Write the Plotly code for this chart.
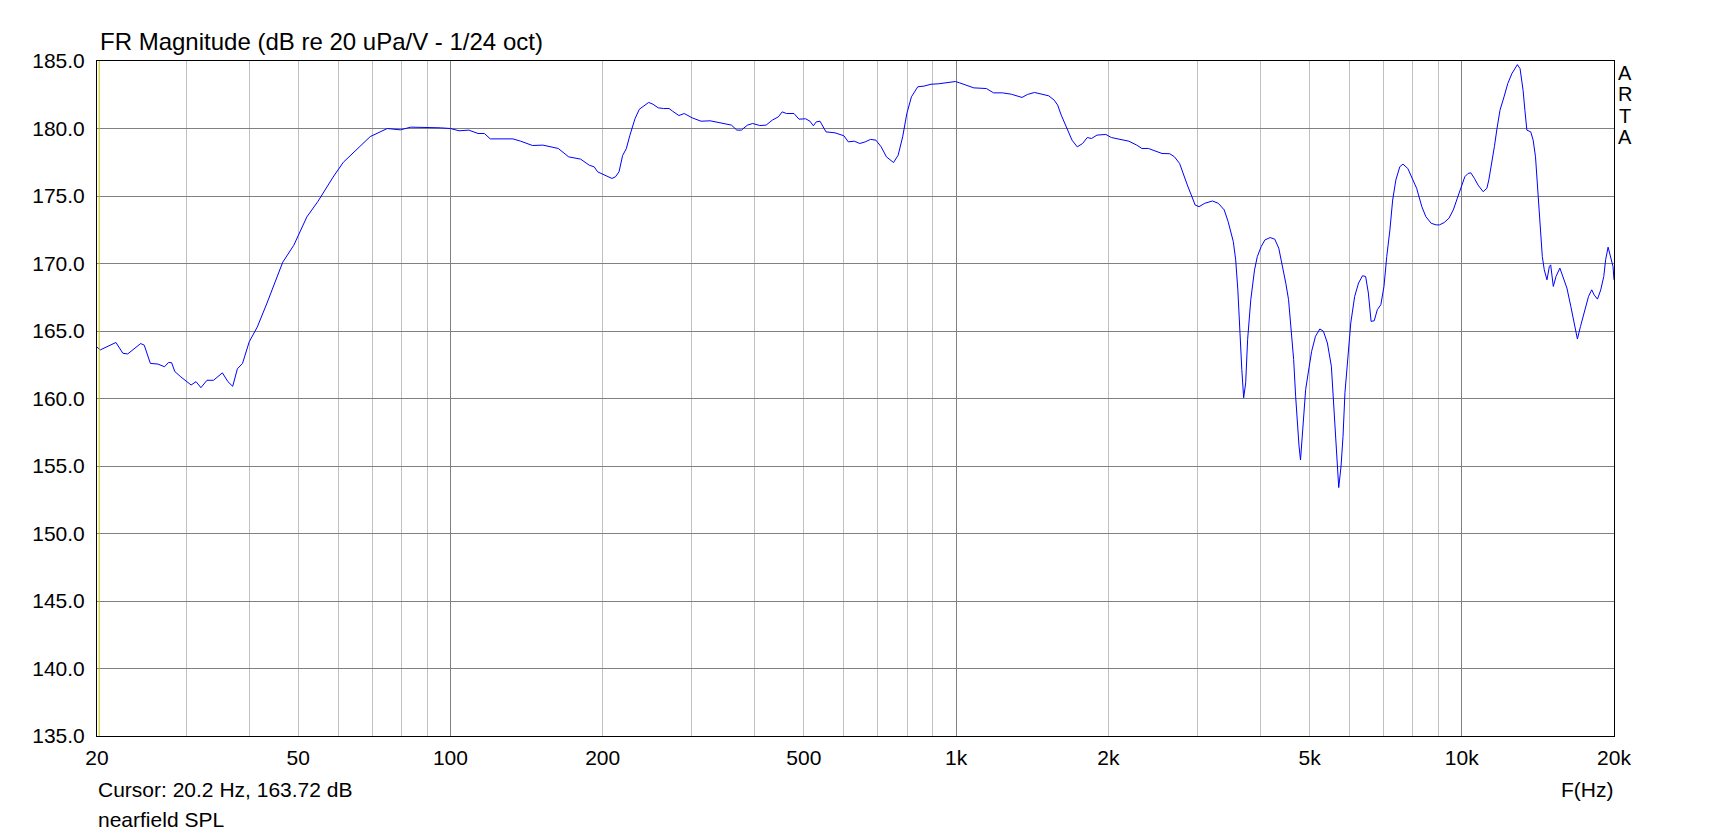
import math
import plotly.graph_objects as go

# ---------------- data ----------------
freq_hz = [
    20.0, 20.3, 21.8, 22.5, 23.0, 24.4, 24.8, 25.5, 26.4, 27.2, 27.7, 28.1, 28.5, 29.3,
    30.7, 31.4, 32.1, 33.0, 34.0, 35.4, 36.3, 37.1, 37.9, 38.8, 40.0, 41.5, 43.3, 44.6,
    46.6, 49.0, 52.0, 54.7, 58.6, 61.4, 65.2, 69.4, 75.0, 79.6, 83.5, 90.4, 95.5, 100.0,
    104.0, 108.7, 113.4, 116.7, 119.9, 125.9, 132.9, 137.7, 145.3, 152.3, 163.4, 171.3,
    180.9, 188.2, 192.4, 195.5, 200.3, 208.6, 212.0, 215.5, 219.0, 222.7, 226.4, 231.8,
    236.4, 241.4, 246.6, 251.4, 257.6, 264.0, 270.6, 275.0, 283.0, 290.0, 300.6, 313.0,
    326.2, 339.6, 350.8, 359.5, 368.4, 376.2, 386.6, 396.0, 409.0, 421.0, 433.0, 445.0,
    453.0, 462.0, 478.0, 489.0, 504.0, 514.0, 522.0, 529.0, 538.0, 553.0, 576.0, 600.0,
    612.0, 629.0, 645.0, 661.0, 677.0, 694.0, 711.0, 728.0, 752.0, 768.0, 784.0, 799.0,
    816.0, 840.0, 864.0, 892.0, 922.0, 960.0, 997.0, 1016.0, 1050.0, 1084.0, 1148.0,
    1186.0, 1235.0, 1286.0, 1350.0, 1384.0, 1429.0, 1476.0, 1525.0, 1563.0, 1588.0,
    1614.0, 1654.0, 1695.0, 1736.0, 1779.0, 1817.0, 1853.0, 1899.0, 1977.0, 2028.0,
    2102.0, 2196.0, 2276.0, 2330.0, 2400.0, 2465.0, 2554.0, 2646.0, 2703.0, 2767.0,
    2815.0, 2866.0, 2918.0, 2970.0, 3023.0, 3103.0, 3213.0, 3300.0, 3390.0, 3451.0,
    3533.0, 3572.0, 3607.0, 3640.0, 3673.0, 3704.0, 3738.0, 3771.0, 3826.0, 3892.0,
    3942.0, 4012.0, 4081.0, 4179.0, 4268.0, 4346.0, 4423.0, 4487.0, 4544.0, 4602.0,
    4651.0, 4693.0, 4733.0, 4766.0, 4798.0, 4848.0, 4912.0, 4987.0, 5048.0, 5137.0,
    5240.0, 5326.0, 5423.0, 5522.0, 5573.0, 5623.0, 5674.0, 5710.0, 5771.0, 5823.0,
    5874.0, 5947.0, 6032.0, 6140.0, 6250.0, 6363.0, 6454.0, 6535.0, 6617.0, 6712.0,
    6808.0, 6918.0, 7017.0, 7106.0, 7209.0, 7300.0, 7406.0, 7541.0, 7651.0, 7821.0,
    7965.0, 8142.0, 8337.0, 8491.0, 8699.0, 8896.0, 9034.0, 9228.0, 9432.0, 9621.0,
    9798.0, 9978.0, 10140.0, 10290.0, 10420.0, 10590.0, 10770.0, 11020.0, 11210.0,
    11310.0, 11460.0, 11600.0, 11740.0, 11900.0, 12120.0, 12330.0, 12560.0, 12730.0,
    12880.0, 13040.0, 13220.0, 13330.0, 13450.0, 13690.0, 13840.0, 13990.0, 14130.0,
    14250.0, 14430.0, 14560.0, 14740.0, 14900.0, 14990.0, 15170.0, 15360.0, 15630.0,
    15910.0, 16140.0, 16430.0, 16700.0, 16930.0, 17170.0, 17490.0, 17810.0, 18070.0,
    18270.0, 18550.0, 18830.0, 19090.0, 19250.0, 19470.0, 19700.0, 19910.0, 20000.0,
]

spl_db = [
    163.80, 163.60, 164.15, 163.35, 163.30, 164.07, 163.95, 162.60, 162.55, 162.35, 162.67, 162.65, 162.00, 161.60,
    161.00, 161.25, 160.80, 161.35, 161.35, 161.90, 161.25, 160.90, 162.20, 162.60, 164.20, 165.30, 167.00, 168.30,
    170.10, 171.35, 173.45, 174.60, 176.40, 177.50, 178.40, 179.40, 180.00, 179.90, 180.10, 180.10, 180.05, 180.00,
    179.83, 179.88, 179.63, 179.63, 179.23, 179.23, 179.23, 179.06, 178.74, 178.77, 178.52, 177.90,
    177.73, 177.28, 177.16, 176.79, 176.60, 176.30, 176.42, 176.80, 178.00, 178.50, 179.50, 180.74,
    181.43, 181.68, 181.93, 181.80, 181.53, 181.48, 181.48, 181.28, 180.96, 181.11, 180.79, 180.54,
    180.57, 180.44, 180.30, 180.25, 179.88, 179.88, 180.25, 180.37, 180.22, 180.25, 180.62, 180.86,
    181.23, 181.11, 181.11, 180.69, 180.72, 180.54, 180.20, 180.49, 180.54, 179.75, 179.68, 179.46,
    179.01, 179.06, 178.89, 179.01, 179.19, 179.14, 178.64, 177.90, 177.48, 178.02, 179.38, 181.11,
    182.35, 183.09, 183.14, 183.28, 183.31, 183.38, 183.48, 183.38, 183.21, 183.01, 182.96,
    182.64, 182.64, 182.54, 182.30, 182.52, 182.67, 182.52, 182.42, 182.10, 181.73,
    180.99, 180.12, 179.14, 178.64, 178.89, 179.33, 179.26, 179.51, 179.56, 179.33,
    179.21, 179.06, 178.77, 178.52, 178.52, 178.35, 178.15, 178.13, 177.90, 177.41,
    176.55, 175.81, 175.07, 174.33, 174.21, 174.46, 174.63, 174.46, 173.97, 173.10,
    171.63, 170.27, 168.05, 164.85, 162.14, 160.05, 161.16, 164.36, 167.32, 169.53,
    170.52, 171.26, 171.75, 171.92, 171.80, 171.13, 169.78, 168.55, 167.32, 165.10,
    162.88, 160.17, 157.96, 156.48, 155.44, 157.71, 160.67, 162.27, 163.50, 164.61,
    165.15, 164.98, 164.11, 162.39, 159.93, 156.97, 154.51, 153.40, 155.00, 157.20,
    160.42, 162.88, 165.59, 167.56, 168.55, 169.09, 169.04, 167.81, 165.71, 165.76,
    166.58, 166.95, 168.30, 170.52, 172.49, 174.70, 176.18, 177.17, 177.36, 177.04,
    176.43, 175.57, 174.21, 173.47, 172.98, 172.86, 172.86, 173.03, 173.35, 173.97,
    174.83, 175.69, 176.43, 176.67, 176.72, 176.31, 175.81, 175.32, 175.57,
    176.18, 177.41, 178.65, 180.00, 181.35, 182.34, 183.33, 184.06, 184.43,
    184.73, 184.43, 182.83, 181.35, 179.88, 179.75, 179.14, 177.90, 175.44,
    173.47, 170.52, 169.53, 168.79, 169.78, 169.90, 168.30, 169.04, 169.66,
    168.79, 168.18, 166.82, 165.34, 164.41, 165.34, 166.58, 167.56, 168.05,
    167.68, 167.36, 168.05, 169.04, 170.27, 171.21, 170.52, 169.78, 168.79,
]

x_tick_vals = [20, 50, 100, 200, 500, 1000, 2000, 5000, 10000, 20000]
x_tick_text = ["20", "50", "100", "200", "500", "1k", "2k", "5k", "10k", "20k"]
light_grid_hz = [30, 40, 50, 60, 70, 80, 90,
                 200, 300, 400, 500, 600, 700, 800, 900,
                 2000, 3000, 4000, 5000, 6000, 7000, 8000, 9000]
decade_grid_hz = [100, 1000, 10000]
x_min, x_max = 20, 20000
y_min, y_max, y_step = 135.0, 185.0, 5.0

cursor_hz = 20.2
cursor_db = 163.72
title_text = "FR Magnitude (dB re 20 uPa/V - 1/24 oct)"
cursor_text = f"Cursor: {cursor_hz} Hz, {cursor_db:.2f} dB"
curve_name = "nearfield SPL"
x_axis_label = "F(Hz)"
brand_letters = list("ARTA")

# ---------------- figure ----------------
# The page body has an 8px default margin, so the figure is 8px smaller than the window.
FONT = "Liberation Sans, Arial, sans-serif"
fig = go.Figure()

fig.add_trace(go.Scatter(
    x=[cursor_hz, cursor_hz], y=[y_min, y_max], mode="lines",
    line=dict(color="#c8c000", width=1), hoverinfo="skip", xaxis="x2",
))
fig.add_trace(go.Scatter(
    x=freq_hz, y=spl_db, mode="lines", name=curve_name,
    line=dict(color="#0000ff", width=1),
))

xrange = [math.log10(x_min), math.log10(x_max)]
fig.update_layout(
    width=1702, height=828,
    margin=dict(l=89, r=96, t=53, b=100, pad=0),
    paper_bgcolor="white", plot_bgcolor="white",
    showlegend=False,
    font=dict(family=FONT, color="black", size=21),
    xaxis=dict(
        type="log", range=xrange,
        tickmode="array", tickvals=x_tick_vals, ticktext=x_tick_text,
        showgrid=False, zeroline=False, ticks="",
        showline=True, mirror=True, linecolor="black", linewidth=1,
        tickfont=dict(size=21, family=FONT, color="black"),
        ticklabelstandoff=3, automargin=False,
        minor=dict(tickmode="array", tickvals=light_grid_hz, showgrid=True,
                   gridcolor="#c0c0c0", gridwidth=1, ticks=""),
    ),
    xaxis2=dict(
        type="log", range=xrange, overlaying="x", side="bottom",
        tickmode="array", tickvals=decade_grid_hz,
        showgrid=True, gridcolor="#808080", gridwidth=1,
        showticklabels=False, ticks="", zeroline=False, showline=False,
    ),
    yaxis=dict(
        range=[y_min, y_max], tick0=y_min, dtick=y_step, tickformat=".1f",
        showgrid=True, gridcolor="#808080", gridwidth=1, zeroline=False,
        ticks="", showline=True, mirror=True, linecolor="black", linewidth=1,
        tickfont=dict(size=21, family=FONT, color="black"),
        ticklabelstandoff=7, automargin=False,
    ),
)

annotations = [
    dict(text=title_text, xref="paper", yref="paper", x=0, y=1,
         xanchor="left", yanchor="bottom", xshift=1, yshift=4,
         showarrow=False, font=dict(size=24, family=FONT, color="black")),
    dict(text=cursor_text, xref="paper", yref="paper", x=0, y=0,
         xanchor="left", yanchor="top", xshift=-1, yshift=-40,
         showarrow=False, font=dict(size=21, family=FONT, color="black")),
    dict(text=curve_name, xref="paper", yref="paper", x=0, y=0,
         xanchor="left", yanchor="top", xshift=-1, yshift=-70,
         showarrow=False, font=dict(size=21, family=FONT, color="black")),
    dict(text=x_axis_label, xref="paper", yref="paper", x=1, y=0,
         xanchor="right", yanchor="top", xshift=1, yshift=-40,
         showarrow=False, font=dict(size=21, family=FONT, color="black")),
]
for i, letter in enumerate(brand_letters):
    annotations.append(dict(
        text=letter, xref="paper", yref="paper", x=1, y=1,
        xanchor="center", yanchor="top", xshift=11, yshift=1 - 21.4 * i,
        showarrow=False, font=dict(size=20, family=FONT, color="black")))
fig.update_layout(annotations=annotations)

fig.write_html("out.html")
